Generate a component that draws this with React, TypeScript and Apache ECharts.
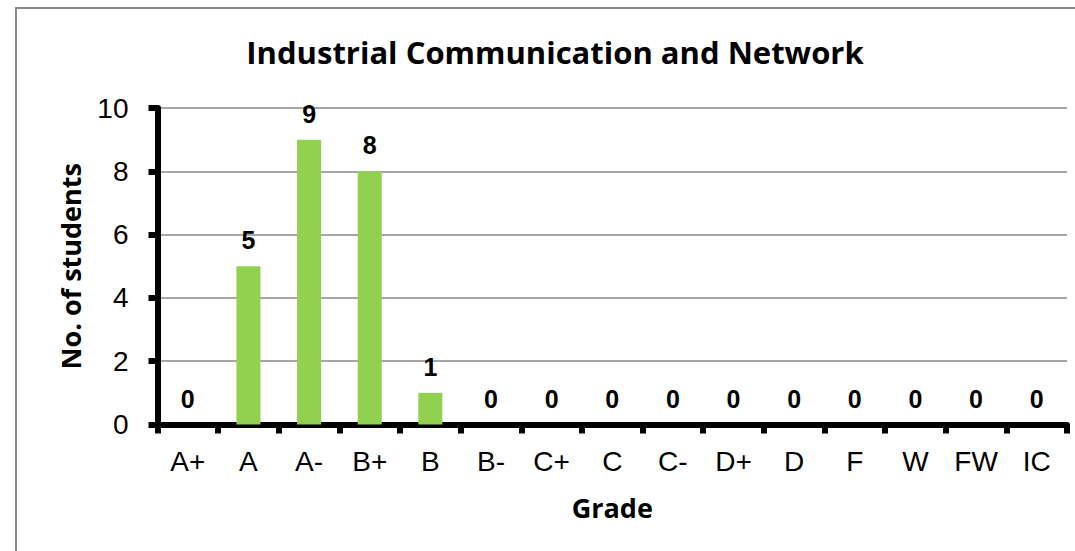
import React, { useEffect, useRef } from "react";
import * as echarts from "echarts";

const categories = ["A+", "A", "A-", "B+", "B", "B-", "C+", "C", "C-", "D+", "D", "F", "W", "FW", "IC"];
const students = [0, 5, 9, 8, 1, 0, 0, 0, 0, 0, 0, 0, 0, 0, 0];
const titleText = "Industrial Communication and Network";
const xName = "Grade";
const yName = "No. of students";

export default function App() {
  const ref = useRef<HTMLDivElement>(null);
  useEffect(() => {
    const chart = echarts.init(ref.current!, null, { renderer: "svg" });
    chart.setOption({
      animation: false,
      backgroundColor: "#ffffff",
      graphic: [
        {
          type: "rect",
          shape: { x: 16, y: 8, width: 1100, height: 600 },
          style: { fill: "none", stroke: "#8a8a8a", lineWidth: 2 },
          silent: true,
        },
        {
          type: "text",
          x: 555,
          y: 52,
          style: {
            text: titleText,
            fontFamily: "Open Sans",
            fontWeight: "bold",
            fontSize: 31,
            fill: "#000",
            textAlign: "center",
            textVerticalAlign: "middle",
          },
        },
      ],
      grid: { left: 157.5, right: 8, top: 108, bottom: 126.5, containLabel: false },
      xAxis: {
        type: "category",
        data: categories,
        name: xName,
        nameLocation: "middle",
        nameGap: 69,
        nameTextStyle: { fontFamily: "Open Sans", fontWeight: "bold", fontSize: 27, color: "#000" },
        axisLine: { lineStyle: { color: "#000", width: 6 } },
        axisTick: { show: true, length: 9, lineStyle: { color: "#000", width: 6 } },
        axisLabel: { fontFamily: "Liberation Sans", fontSize: 28, color: "#000", margin: 23, interval: 0 },
      },
      yAxis: {
        type: "value",
        min: 0,
        max: 10,
        interval: 2,
        name: yName,
        nameLocation: "middle",
        nameGap: 74,
        nameTextStyle: { fontFamily: "Open Sans", fontWeight: "bold", fontSize: 27, color: "#000" },
        axisLine: { show: true, lineStyle: { color: "#000", width: 6 } },
        axisTick: { show: true, length: 9, lineStyle: { color: "#000", width: 6 } },
        axisLabel: { fontFamily: "Liberation Sans", fontSize: 28, color: "#000", margin: 29 },
        splitLine: { lineStyle: { color: "#898989", width: 1.5 } },
      },
      series: [
        {
          type: "bar",
          data: students,
          barWidth: 24,
          itemStyle: { color: "#92d050" },
          label: {
            show: true,
            position: "top",
            distance: 13.5,
            fontFamily: "Liberation Sans",
            fontWeight: "bold",
            fontSize: 25,
            color: "#000",
          },
        },
      ],
    });
    return () => chart.dispose();
  }, []);
  return <div ref={ref} style={{ position: "fixed", left: 0, top: 0, width: 1075, height: 551 }} />;
}
